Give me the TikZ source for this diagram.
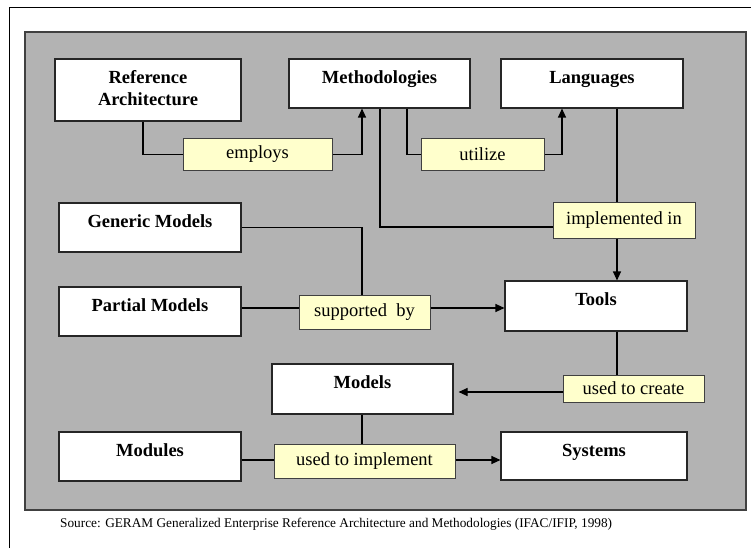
\documentclass[tikz,border=0pt]{standalone}
\usepackage{fontspec}
\setmainfont{Liberation Serif}
\usetikzlibrary{arrows.meta}
\definecolor{panelgray}{HTML}{B3B3B3}
\definecolor{paneledge}{HTML}{404040}
\definecolor{notefill}{HTML}{FFFFCC}
\begin{document}
\begin{tikzpicture}[x=1pt,y=-1pt,
  box/.style={draw=black!85,line width=1.1pt,fill=white,inner sep=0pt,
    font=\fontsize{18.5}{22}\selectfont\bfseries,align=center,text height=24.5pt},
  note/.style={draw=paneledge,line width=1pt,fill=notefill,inner sep=0pt,
    font=\fontsize{18.5}{22}\selectfont},
  link/.style={line width=1.1pt,black},
  arr/.style={link,-{Triangle[length=9pt,width=8pt]}}]
\useasboundingbox (0,0) rectangle (751,548);
% outer frame (only top and left edges fall inside)
\draw[line width=1.1pt] (9.5,548) -- (9.5,7.5) -- (751,7.5);
% grey panel
\draw[fill=panelgray,draw=paneledge,line width=1.5pt] (25,32) rectangle (746,510);

% concept boxes
\node[box,minimum width=186pt,text height=47pt,text depth=15pt] (ra) at (148,90) {Reference\\Architecture};
\node[box,minimum width=181pt,text depth=24.5pt] (meth) at (379.5,83.5) {Methodologies};
\node[box,minimum width=182pt,text depth=24.5pt] (lang) at (592,83.5)  {Languages};
\node[box,minimum width=182pt,text depth=24.5pt] (gen)  at (150,227.5) {Generic Models};
\node[box,minimum width=182pt,text depth=24.5pt] (part) at (150,311.5) {Partial Models};
\node[box,minimum width=182pt,text depth=25.5pt] (tools) at (596,306)  {Tools};
\node[box,minimum width=181pt,text depth=25.5pt] (models) at (362.5,389) {Models};
\node[box,minimum width=182pt,text depth=24.5pt] (mods) at (150,456.5) {Modules};
\node[box,minimum width=186pt,text depth=23.5pt] (sys)  at (594,456)   {Systems};

% relation labels
\node[note,minimum width=149pt,minimum height=31pt] (emp)  at (257.5,154.5) {employs};
\node[note,minimum width=123pt,minimum height=31pt] (uti)  at (482.5,154.5) {utilize};
\node[note,minimum width=142pt,minimum height=36pt] (impl) at (624,220)   {implemented in};
\node[note,minimum width=131pt,minimum height=34pt] (sup)  at (364.5,312) {supported\ \ by};
\node[note,minimum width=141pt,minimum height=27pt] (cre)  at (633.5,388.5) {used to create};
\node[note,minimum width=181pt,minimum height=34pt] (uimp) at (364.5,461) {used to implement};

% connectors
\draw[link] ([xshift=-5pt]ra.south) |- (emp.west);
\draw[arr] (emp.east) -| ([xshift=-17.5pt]meth.south);
\draw[link] ([xshift=27.5pt]meth.south) |- (uti.west);
\draw[arr] (uti.east) -| ([xshift=-30pt]lang.south);
\draw[link] ([xshift=0.5pt]meth.south) |- ([yshift=-7pt]impl.west);
\draw[link] ([xshift=25pt]lang.south) -- ([xshift=25pt]lang.south |- impl.north);
\draw[arr] ([xshift=25pt]lang.south |- impl.south) -- ([xshift=25pt]lang.south |- tools.north);
\draw[link] (gen.east) -| ([xshift=-2.5pt]sup.north);
\draw[link] ([yshift=3.5pt]part.east) -- ([yshift=3.5pt]part.east -| sup.west);
\draw[arr] ([yshift=3.5pt]part.east -| sup.east) -- ([yshift=3.5pt]part.east -| tools.west);
\draw[link] ([xshift=21pt]tools.south) -- ([xshift=21pt]tools.south |- cre.north);
\draw[arr,shorten >=5pt] ([yshift=-3.5pt]cre.west) -- ([yshift=-3.5pt]cre.west -| models.east);
\draw[link] ([xshift=-0.5pt]models.south) -- ([xshift=-0.5pt]models.south |- uimp.north);
\draw[link] ([yshift=-3.5pt]mods.east) -- ([yshift=-3.5pt]mods.east -| uimp.west);
\draw[arr] ([yshift=-3.5pt]mods.east -| uimp.east) -- ([yshift=-3.5pt]mods.east -| sys.west);

% source line
\node[anchor=base west,inner sep=0pt,font=\fontsize{13.3}{15}\selectfont] (src) at (60,527)
  {Source: GERAM Generalized Enterprise Reference Architecture and Methodologies (IFAC/IFIP, 1998)};
\end{tikzpicture}
\end{document}
